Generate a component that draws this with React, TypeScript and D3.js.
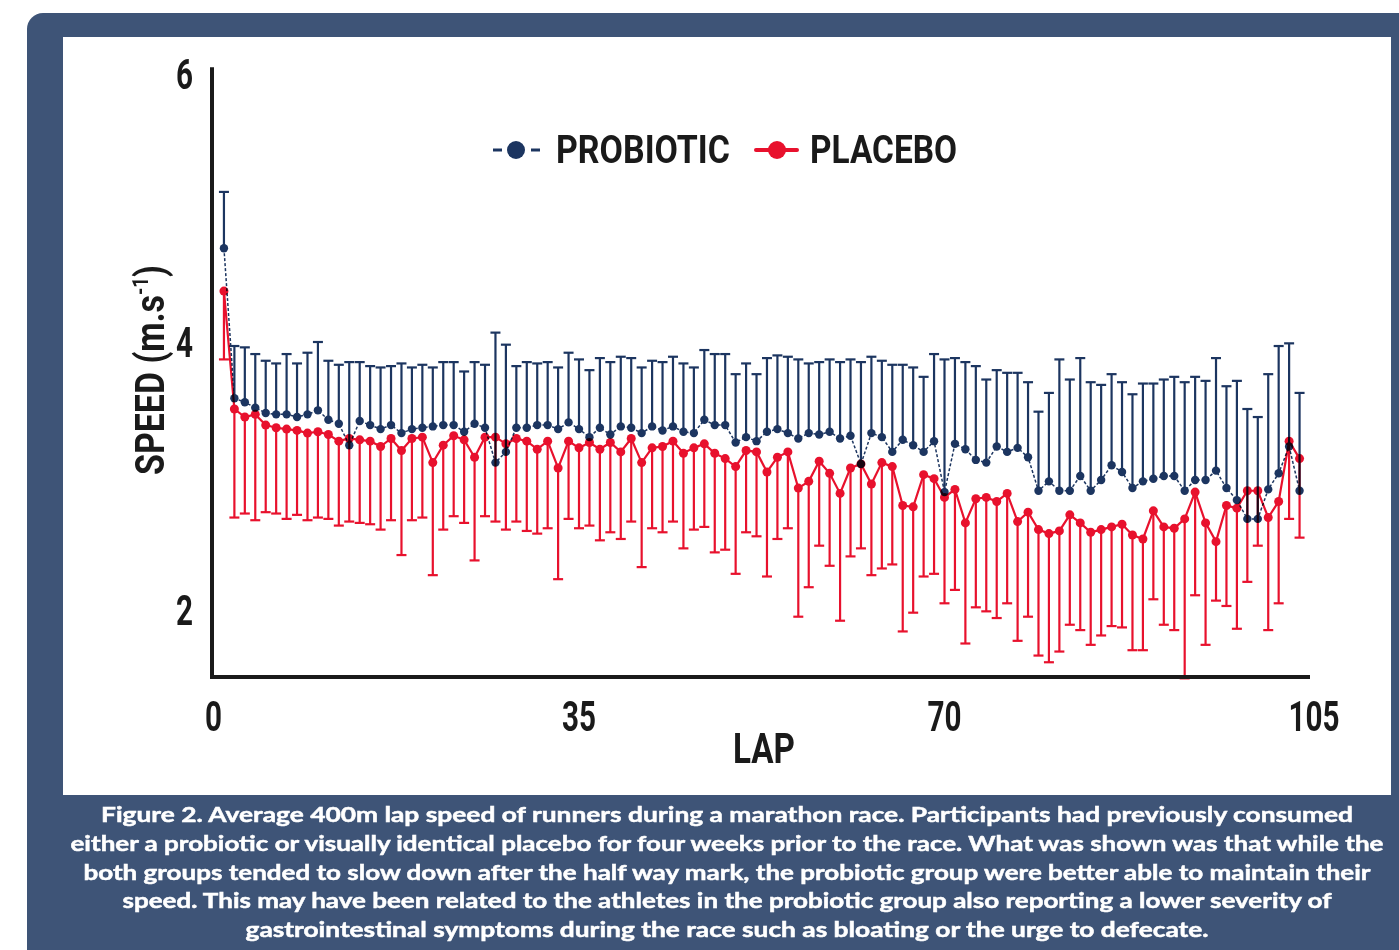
import React from "react";
import * as d3 from "d3";

const WIDTH = 1399;
const HEIGHT = 950;

const NAVY = "#1c3560";
const RED = "#e8112d";
const PANEL = "#3e5477";
const INK = "#1a1a1a";

// mean lap speed (m/s), laps 1..104
const probioticMean = [
  4.7, 3.58, 3.55, 3.51, 3.47, 3.46, 3.46, 3.44, 3.46, 3.49,
  3.42, 3.39, 3.23, 3.41, 3.38, 3.35, 3.38, 3.32, 3.35, 3.36,
  3.37, 3.38, 3.38, 3.33, 3.39, 3.36, 3.1, 3.18, 3.36, 3.36,
  3.38, 3.38, 3.35, 3.4, 3.35, 3.29, 3.36, 3.31, 3.37, 3.36,
  3.32, 3.37, 3.34, 3.37, 3.33, 3.32, 3.42, 3.38, 3.38, 3.25,
  3.29, 3.26, 3.33, 3.35, 3.32, 3.28, 3.32, 3.31, 3.33, 3.28,
  3.3, 3.09, 3.32, 3.29, 3.18, 3.27, 3.23, 3.18, 3.26, 2.88,
  3.24, 3.2, 3.12, 3.1, 3.22, 3.18, 3.21, 3.14, 2.89, 2.96,
  2.89, 2.89, 3.0, 2.89, 2.97, 3.08, 3.03, 2.91, 2.96, 2.98,
  3.0, 3.0, 2.89, 2.97, 2.97, 3.04, 2.91, 2.82, 2.68, 2.68,
  2.9, 3.02, 3.22, 2.89,
];

// top of the probiotic error bar
const probioticUpper = [
  5.12, 3.97, 3.96, 3.91, 3.86, 3.84, 3.91, 3.84, 3.92, 4.0,
  3.86, 3.83, 3.85, 3.85, 3.82, 3.81, 3.82, 3.84, 3.81, 3.83,
  3.81, 3.85, 3.85, 3.78, 3.85, 3.83, 4.07, 3.98, 3.82, 3.85,
  3.84, 3.85, 3.81, 3.92, 3.87, 3.79, 3.88, 3.85, 3.89, 3.88,
  3.81, 3.86, 3.85, 3.89, 3.84, 3.81, 3.94, 3.91, 3.91, 3.76,
  3.84, 3.76, 3.88, 3.9, 3.89, 3.87, 3.84, 3.85, 3.87, 3.85,
  3.87, 3.85, 3.89, 3.86, 3.83, 3.83, 3.81, 3.74, 3.91, 3.87,
  3.88, 3.85, 3.82, 3.72, 3.79, 3.77, 3.77, 3.7, 3.48, 3.62,
  3.87, 3.72, 3.88, 3.7, 3.68, 3.76, 3.7, 3.61, 3.69, 3.69,
  3.72, 3.74, 3.7, 3.74, 3.71, 3.88, 3.67, 3.71, 3.5, 3.44,
  3.76, 3.97, 3.99, 3.62,
];

const placeboMean = [
  4.38, 3.5, 3.44, 3.46, 3.38, 3.36, 3.35, 3.34, 3.32, 3.33,
  3.31, 3.26, 3.28, 3.27, 3.26, 3.22, 3.28, 3.19, 3.28, 3.29,
  3.1, 3.23, 3.3, 3.27, 3.14, 3.29, 3.29, 3.24, 3.28, 3.26,
  3.2, 3.26, 3.06, 3.26, 3.21, 3.25, 3.2, 3.25, 3.18, 3.28,
  3.1, 3.21, 3.22, 3.26, 3.17, 3.21, 3.24, 3.17, 3.13, 3.07,
  3.19, 3.18, 3.03, 3.14, 3.18, 2.91, 2.96, 3.11, 3.02, 2.87,
  3.06, 3.09, 2.94, 3.1, 3.07, 2.78, 2.77, 3.01, 2.98, 2.84,
  2.9, 2.65, 2.83, 2.84, 2.81, 2.87, 2.66, 2.73, 2.6, 2.57,
  2.59, 2.71, 2.65, 2.58, 2.6, 2.62, 2.64, 2.56, 2.53, 2.74,
  2.62, 2.61, 2.68, 2.88, 2.65, 2.51, 2.78, 2.76, 2.89, 2.89,
  2.69, 2.81, 3.26, 3.13,
];

// bottom of the placebo error bar
const placeboLower = [
  3.87, 2.69, 2.72, 2.67, 2.73, 2.72, 2.68, 2.71, 2.67, 2.69,
  2.68, 2.63, 2.66, 2.65, 2.64, 2.6, 2.67, 2.41, 2.67, 2.69,
  2.26, 2.6, 2.7, 2.65, 2.37, 2.7, 2.66, 2.6, 2.66, 2.59,
  2.57, 2.61, 2.23, 2.68, 2.61, 2.63, 2.52, 2.58, 2.53, 2.66,
  2.32, 2.61, 2.58, 2.66, 2.46, 2.6, 2.62, 2.43, 2.45, 2.27,
  2.58, 2.55, 2.25, 2.53, 2.61, 1.95, 2.17, 2.48, 2.33, 1.92,
  2.4, 2.46, 2.26, 2.31, 2.34, 1.84, 1.98, 2.25, 2.27, 2.05,
  2.15, 1.75, 2.02, 1.99, 1.94, 2.05, 1.77, 1.95, 1.66, 1.61,
  1.69, 1.89, 1.85, 1.74, 1.81, 1.88, 1.87, 1.7, 1.7, 2.08,
  1.89, 1.85, 1.49, 2.11, 1.74, 2.07, 2.03, 1.86, 2.21, 2.48,
  1.85, 2.05, 2.68, 2.54,
];

const xTicks = [0, 35, 70, 105];
const yTicks = [2, 4, 6];

const captionLines = [
  "Figure 2. Average 400m lap speed of runners during a marathon race. Participants had previously consumed",
  "either a probiotic or visually identical placebo for four weeks prior to the race. What was shown was that while the",
  "both groups tended to slow down after the half way mark, the probiotic group were better able to maintain their",
  "speed. This may have been related to the athletes in the probiotic group also reporting a lower severity of",
  "gastrointestinal symptoms during the race such as bloating or the urge to defecate.",
];
const captionWidths = [1252, 1313, 1287, 1209, 963];

const COND = "'Roboto', 'Liberation Sans', sans-serif";
const CAPTION_FONT = "Lato, 'Open Sans', sans-serif";

export default function App() {
  const x = d3.scaleLinear().domain([0, 105]).range([213.5, 1310]);
  const y = d3.scaleLinear().domain([1.5, 6]).range([677, 74]);

  const probiotic = probioticMean.map((m, i) => ({ lap: i + 1, mean: m, err: probioticUpper[i] }));
  const placebo = placeboMean.map((m, i) => ({ lap: i + 1, mean: m, err: placeboLower[i] }));

  const line = d3
    .line<{ lap: number; mean: number }>()
    .x((d) => x(d.lap))
    .y((d) => y(d.mean));

  const capW = 5;

  return (
    <svg
      width={WIDTH}
      height={HEIGHT}
      style={{ position: "absolute", left: 0, top: 0, background: "#fff" }}
    >
      <rect x={27} y={13} width={1420} height={980} rx={16} fill={PANEL} />
      <rect x={63} y={37} width={1328} height={758} fill="#fff" />

      {/* probiotic */}
      <g>
        {probiotic.map((d) => (
          <g key={"pb" + d.lap} stroke={NAVY} strokeWidth={2.2}>
            <line x1={x(d.lap)} x2={x(d.lap)} y1={y(d.mean)} y2={y(d.err)} />
            <line x1={x(d.lap) - capW} x2={x(d.lap) + capW} y1={y(d.err)} y2={y(d.err)} />
          </g>
        ))}
        <path d={line(probiotic) || ""} fill="none" stroke={NAVY} strokeWidth={1.5} strokeDasharray="3 2" />
        {probiotic.map((d) => (
          <circle key={"pc" + d.lap} cx={x(d.lap)} cy={y(d.mean)} r={4.2} fill={NAVY} />
        ))}
      </g>

      {/* placebo, multiplied so overlaps go dark like the original */}
      <g style={{ mixBlendMode: "multiply" }}>
        {placebo.map((d) => (
          <g key={"rb" + d.lap} stroke={RED} strokeWidth={2.2}>
            <line x1={x(d.lap)} x2={x(d.lap)} y1={y(d.mean)} y2={y(d.err)} />
            <line x1={x(d.lap) - capW} x2={x(d.lap) + capW} y1={y(d.err)} y2={y(d.err)} />
          </g>
        ))}
        <path d={line(placebo) || ""} fill="none" stroke={RED} strokeWidth={2.2} />
        {placebo.map((d) => (
          <circle key={"rc" + d.lap} cx={x(d.lap)} cy={y(d.mean)} r={4.5} fill={RED} />
        ))}
      </g>

      {/* axes */}
      <path
        d={`M${x(0) - 1.5},${y(6.05)}V${y(1.5)}H${x(105)}`}
        fill="none"
        stroke={INK}
        strokeWidth={4}
      />
      {yTicks.map((t) => (
        <text
          key={"yt" + t}
          x={193}
          y={y(t) + 15}
          textAnchor="end"
          fontFamily={COND}
          fontWeight={700}
          fontSize={43}
          fill={INK}
          textLength={17}
          lengthAdjust="spacingAndGlyphs"
        >
          {t}
        </text>
      ))}
      {xTicks.map((t) => (
        <text
          key={"xt" + t}
          x={x(t) - (String(t).length * 17) / 2 + (t === 105 ? 4 : 0)}
          y={731}
          fontFamily={COND}
          fontWeight={700}
          fontSize={43}
          fill={INK}
          textLength={String(t).length * 17}
          lengthAdjust="spacingAndGlyphs"
        >
          {t}
        </text>
      ))}
      <text
        x={733}
        y={763}
        fontFamily={COND}
        fontWeight={700}
        fontSize={43}
        fill={INK}
        textLength={62}
        lengthAdjust="spacingAndGlyphs"
      >
        LAP
      </text>
      <text
        transform="translate(164,475) rotate(-90)"
        fontFamily={COND}
        fontWeight={700}
        fontSize={40}
        fill={INK}
        textLength={210}
        lengthAdjust="spacingAndGlyphs"
      >
        SPEED (m.s
        <tspan fontSize={22} dy={-16}>-1</tspan>
        <tspan dy={16}>)</tspan>
      </text>

      {/* legend */}
      <g>
        <line x1={493} x2={502} y1={150} y2={150} stroke={NAVY} strokeWidth={3} />
        <line x1={531} x2={540} y1={150} y2={150} stroke={NAVY} strokeWidth={3} />
        <circle cx={516} cy={150} r={9} fill={NAVY} />
        <text
          x={556}
          y={163}
          fontFamily={COND}
          fontWeight={700}
          fontSize={38}
          fill={INK}
          textLength={174}
          lengthAdjust="spacingAndGlyphs"
        >
          PROBIOTIC
        </text>
        <line x1={756} x2={797} y1={150} y2={150} stroke={RED} strokeWidth={4} strokeLinecap="round" />
        <circle cx={777} cy={150} r={9} fill={RED} />
        <text
          x={810}
          y={163}
          fontFamily={COND}
          fontWeight={700}
          fontSize={38}
          fill={INK}
          textLength={147}
          lengthAdjust="spacingAndGlyphs"
        >
          PLACEBO
        </text>
      </g>

      {/* caption */}
      {captionLines.map((s, i) => (
        <text
          key={"cap" + i}
          x={727}
          y={822 + i * 28.8}
          textAnchor="middle"
          fontFamily={CAPTION_FONT}
          fontWeight={700}
          fontSize={21}
          fill="#fff"
          stroke="#fff"
          strokeWidth={0.5}
          textLength={captionWidths[i]}
          lengthAdjust="spacingAndGlyphs"
        >
          {s}
        </text>
      ))}
    </svg>
  );
}
